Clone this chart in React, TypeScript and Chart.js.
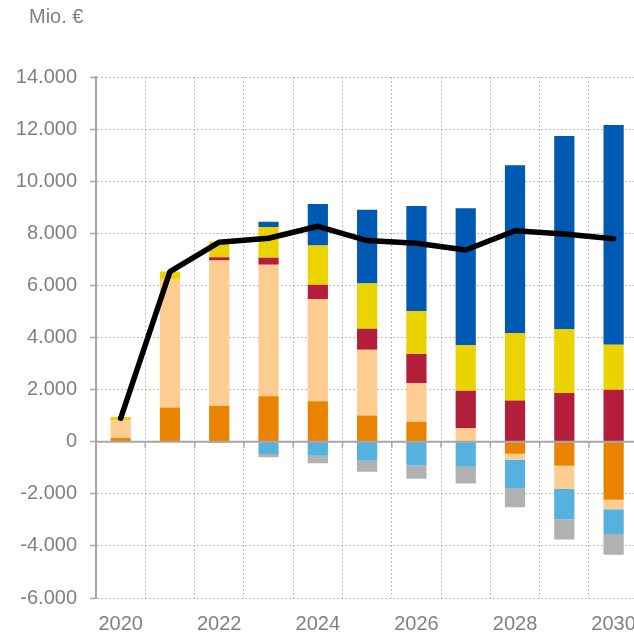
import React, { useEffect, useRef } from "react";
import { Chart, registerables } from "chart.js";

Chart.register(...registerables);

const years = ["2020", "2021", "2022", "2023", "2024", "2025", "2026", "2027", "2028", "2029", "2030"];
const orangeVals = [140, 1316, 1380, 1740, 1550, 1010, 770, 0, -460, -920, -2225];
const peachVals = [680, 4900, 5575, 5050, 3925, 2520, 1470, 525, -230, -895, -370];
const redVals = [0, 0, 130, 270, 550, 805, 1130, 1430, 1585, 1865, 1995];
const yellowVals = [130, 320, 600, 1180, 1510, 1740, 1650, 1750, 2585, 2455, 1725];
const blueVals = [0, 0, 0, 200, 1590, 2825, 4030, 5255, 6445, 7415, 8440];
const lightBlueVals = [0, 0, 0, -470, -540, -730, -910, -960, -1090, -1175, -945];
const greyVals = [0, 0, -50, -130, -290, -420, -510, -640, -740, -765, -795];
const totalVals = [900, 6530, 7660, 7810, 8270, 7720, 7620, 7360, 8100, 7970, 7790];
const yMin = -6000;
const yMax = 14000;
const yStep = 2000;
const unitLabel = "Mio. €";

const FONT = "'Liberation Sans', Arial, sans-serif";
const TEXT = "#808080";
const AXIS = "#a6a6a6";
const GRID = "#bdbdbd";

function fmt(v: number): string {
  const neg = v < 0;
  const s = String(Math.abs(Math.round(v)));
  const withDots = s.replace(/\B(?=(\d{3})+(?!\d))/g, ".");
  return (neg ? "-" : "") + withDots;
}

const overlayPlugin = {
  id: "overlay",
  afterDatasetsDraw(chart: any) {
    const { ctx, chartArea, scales } = chart;
    const y0 = scales.y.getPixelForValue(0);
    ctx.save();
    ctx.strokeStyle = AXIS;
    ctx.lineWidth = 2;
    ctx.beginPath();
    ctx.moveTo(chartArea.left, y0);
    ctx.lineTo(chartArea.right, y0);
    ctx.stroke();
    ctx.lineWidth = 1.5;
    const n = years.length;
    for (let i = 1; i < n; i++) {
      const x = (scales.x.getPixelForValue(i - 1) + scales.x.getPixelForValue(i)) / 2;
      ctx.beginPath();
      ctx.moveTo(x, y0);
      ctx.lineTo(x, y0 + 6);
      ctx.stroke();
    }
    ctx.restore();
  },
  afterDraw(chart: any) {
    const { ctx } = chart;
    ctx.save();
    ctx.fillStyle = TEXT;
    ctx.font = `20px ${FONT}`;
    ctx.textBaseline = "alphabetic";
    ctx.textAlign = "left";
    ctx.fillText(unitLabel, 29, 23);
    ctx.restore();
  },
};

export default function App() {
  const ref = useRef<HTMLCanvasElement | null>(null);

  useEffect(() => {
    if (!ref.current) return;
    const bar = (label: string, data: number[], color: string) => ({
      type: "bar" as const,
      label,
      data,
      backgroundColor: color,
      borderWidth: 0,
      order: 1,
      stack: "s",
      barPercentage: 0.41,
      categoryPercentage: 1,
    });
    const chart = new Chart(ref.current, {
      type: "bar",
      data: {
        labels: years,
        datasets: [
          {
            type: "line" as const,
            label: "Gesamt",
            data: totalVals,
            borderColor: "#000000",
            backgroundColor: "#000000",
            borderWidth: 5.5,
            pointRadius: 0,
            tension: 0,
            borderCapStyle: "round",
            borderJoinStyle: "round",
            order: 0,
            stack: "line",
          } as any,
          bar("A", orangeVals, "#E98300"),
          bar("B", peachVals, "#FFCC91"),
          bar("C", redVals, "#B31F3B"),
          bar("D", yellowVals, "#EBD300"),
          bar("E", blueVals, "#0059B3"),
          bar("F", lightBlueVals, "#56B1DF"),
          bar("G", greyVals, "#B1B1B1"),
        ],
      },
      options: {
        animation: false,
        responsive: false,
        layout: { padding: { top: 77, left: 0, right: 3, bottom: 0 } },
        plugins: { legend: { display: false }, tooltip: { enabled: false } },
        scales: {
          x: {
            stacked: true,
            offset: true,
            afterFit: (s: any) => {
              s.height = 36;
            },
            grid: {
              offset: true,
              color: GRID,
              lineWidth: 1,
              drawTicks: false,
            },
            border: { display: false, dash: [2, 2] },
            ticks: {
              autoSkip: false,
              maxRotation: 0,
              padding: 14,
              color: TEXT,
              font: { family: FONT, size: 20 },
              callback: (_v: any, i: number) => (i % 2 === 0 ? years[i] : ""),
            },
          },
          y: {
            stacked: true,
            min: yMin,
            max: yMax,
            afterFit: (s: any) => {
              s.width = 96;
            },
            grid: {
              color: GRID,
              lineWidth: 1,
              drawTicks: true,
              tickLength: 6,
              tickColor: AXIS,
              tickWidth: 1.5,
            },
            border: { display: true, color: AXIS, width: 2, dash: [2, 2] },
            ticks: {
              stepSize: yStep,
              padding: 13,
              color: TEXT,
              font: { family: FONT, size: 20 },
              callback: (v: any) => fmt(Number(v)),
            },
          },
        },
      },
      plugins: [overlayPlugin],
    } as any);
    return () => chart.destroy();
  }, []);

  return (
    <div style={{ position: "fixed", left: 0, top: 0, width: 634, height: 634, overflow: "hidden", background: "#fff" }}>
      <canvas ref={ref} width={650} height={634} style={{ width: 650, height: 634, display: "block" }} />
    </div>
  );
}
